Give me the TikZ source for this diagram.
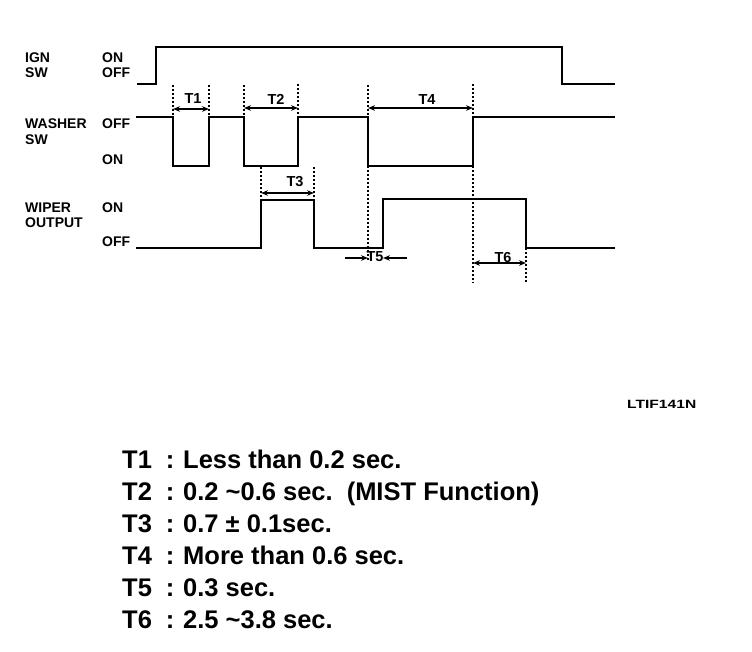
\documentclass[tikz,border=0pt]{standalone}
\usepackage{fontspec}
\setmainfont{Liberation Sans}
\usetikzlibrary{arrows.meta}
\newcommand{\tld}{\char"7E\relax}
\begin{document}
\begin{tikzpicture}[x=1pt,y=-1pt,
  sig/.style={line width=2.4pt, line join=miter, line cap=rect},
  guide/.style={line width=1.8pt, dash pattern=on 2.5pt off 1.5pt},
  dim/.style={line width=1.4pt, {Stealth[length=7pt,width=5.5pt]}-{Stealth[length=7pt,width=5.5pt]}},
  inarrow/.style={line width=1.4pt, -{Stealth[length=7pt,width=5.5pt]}},
  lbl/.style={font=\bfseries\fontsize{14}{15}\selectfont, anchor=base west, inner sep=0pt},
  tl/.style={font=\bfseries\fontsize{14.5}{15}\selectfont, inner sep=0pt},
  note/.style={font=\bfseries\fontsize{25.5}{27}\selectfont, anchor=base west, inner sep=0pt},
  notecolon/.style={font=\bfseries\fontsize{25.5}{27}\selectfont, anchor=base, inner sep=0pt}]
\useasboundingbox (0,0) rectangle (752,652);

% --- row labels ---
\node[lbl] (ign)  at (25,63)  {IGN};
\node[lbl] (ignsw) at (25,78) {SW};
\node[lbl] (ignon) at (102,63) {ON};
\node[lbl] (ignoff) at (102,78) {OFF};
\node[lbl] (wsh)  at (25,129) {WASHER};
\node[lbl] (wshsw) at (25,145) {SW};
\node[lbl] (wshoff) at (102,129) {OFF};
\node[lbl] (wshon) at (102,165) {ON};
\node[lbl] (wip)  at (25,213) {WIPER};
\node[lbl] (wipout) at (25,228) {OUTPUT};
\node[lbl] (wipon) at (102,213) {ON};
\node[lbl] (wipoff) at (102,247) {OFF};

% --- waveforms ---
\draw[sig] (138,84) -- (156,84) -- (156,47) -- (562,47) -- (562,84) -- (614,84);
\draw[sig] (137,117) -- (173,117) -- (173,166) -- (209,166) -- (209,117)
  -- (244,117) -- (244,166) -- (298,166) -- (298,117) -- (368,117)
  -- (368,166) -- (473,166) -- (473,117) -- (614,117);
\draw[sig] (137,248) -- (261,248) -- (261,200) -- (314,200) -- (314,248)
  -- (383,248) -- (383,199) -- (526,199) -- (526,248) -- (614,248);

% --- guide lines ---
\draw[guide] (173,85) -- (173,117);
\draw[guide] (209,85) -- (209,117);
\draw[guide] (244,85) -- (244,117);
\draw[guide] (298,84) -- (298,117);
\draw[guide] (261,167) -- (261,200);
\draw[guide] (314,167) -- (314,200);
\draw[guide] (368,85) -- (368,117);
\draw[guide] (368,166) -- (368,262);
\draw[guide] (473,84) -- (473,117);
\draw[guide] (473,166) -- (473,283);
\draw[guide] (526,248) -- (526,283);

% --- dimension arrows ---
\coordinate (t1a) at (173,109); \coordinate (t1b) at (209,109);
\coordinate (t2a) at (244,108); \coordinate (t2b) at (298,108);
\coordinate (t3a) at (261,193); \coordinate (t3b) at (314,193);
\coordinate (t4a) at (368,108); \coordinate (t4b) at (473,108);
\coordinate (t6a) at (473,263); \coordinate (t6b) at (526,263);
\coordinate (t5l) at (345,258); \coordinate (t5a) at (368,258);
\coordinate (t5r) at (407,258); \coordinate (t5b) at (383,258);
\draw[dim] (t1a) -- (t1b);
\draw[dim] (t2a) -- (t2b);
\draw[dim] (t3a) -- (t3b);
\draw[dim] (t4a) -- (t4b);
\draw[dim] (t6a) -- (t6b);
\draw[inarrow] (t5l) -- (t5a);
\draw[inarrow] (t5r) -- (t5b);

\node[tl] (T1) at (193,99) {T1};
\node[tl] (T2) at (276,99) {T2};
\node[tl] (T3) at (295,182) {T3};
\node[tl] (T4) at (427,100) {T4};
\node[tl] (T5) at (375,257) {T5};
\node[tl] (T6) at (503,258) {T6};

% --- code ---
\node[font=\bfseries\fontsize{12}{13}\selectfont, anchor=base west, inner sep=0pt] (code) at (627,408) {\scalebox{1.3}[1]{LTIF141N}};

% --- notes ---
\foreach \i/\t [count=\k] in {1/{Less than 0.2 sec.},2/{0.2 \tld0.6 sec.\hspace{14pt}(MIST Function)},3/{0.7 ± 0.1sec.},4/{More than 0.6 sec.},5/{0.3 sec.},6/{2.5 \tld3.8 sec.}}{
  \pgfmathsetmacro{\yy}{468+32*(\k-1)}
  \node[note] (n\k) at (122,\yy) {T\i};
  \node[notecolon] (c\k) at (170,\yy) {:};
  \node[note] (d\k) at (183,\yy) {\t};
}
\end{tikzpicture}
\end{document}
